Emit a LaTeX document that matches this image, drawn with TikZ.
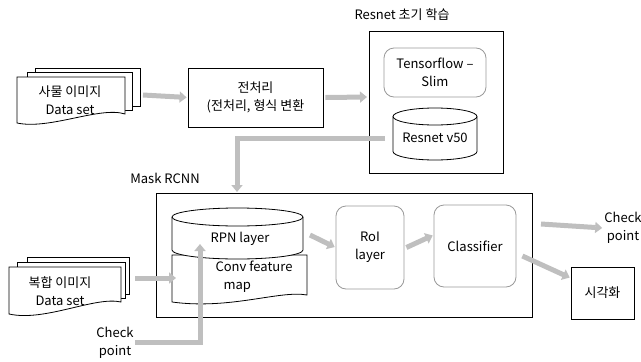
\documentclass[tikz,border=0pt]{standalone}
\usepackage{fontspec}
\setmainfont{Noto Sans CJK KR}
\usetikzlibrary{calc, positioning, arrows.meta}

\tikzset{
  flow/.style = {line width=5pt, draw=gray!50, -{Triangle[length=7pt,width=11pt]}, shorten >=1pt},
  sheet/.style = {draw, fill=white, line width=0.8pt},
  plainbox/.style = {draw, line width=0.8pt, align=center},
  softbox/.style = {draw=gray!80, line width=0.8pt, rounded corners=10pt, align=center},
  txt/.style = {align=center, inner sep=1pt}
}

\begin{document}
\begin{tikzpicture}[x=1pt, y=-1pt, font=\fontsize{13}{18}\selectfont]
  \useasboundingbox (0,0) rectangle (641,362);

  % first data set
  \draw [sheet] (35,68) rectangle (140,106);
  \draw [sheet] (27,72) rectangle (132,110);
  \draw [sheet] (17,77) -- (125,77) -- (125,114)
    .. controls (100,106) and (50,130) .. (17,123) -- cycle;
  \node (objset) [txt] at (70,100) {사물 이미지\\Data set};

  % preprocessing
  \node (prep) [plainbox, minimum width=135, minimum height=59] at (255.5,97.5) {전처리\\(전처리, 형식 변환};

  % resnet pretraining
  \node (resnet) [plainbox, minimum width=134, minimum height=142] at (436,102) {};
  \node (restitle) [txt] at (402,15) {Resnet 초기 학습};
  \node (slim) [softbox, minimum width=102, minimum height=49] at (435,72.5) {Tensorflow –\\Slim};
  \draw [fill=white, line width=0.8pt] (393,116.5) -- (393,151.5)
    .. controls (393,156.2) and (411.8,160) .. (435,160)
    .. controls (458.2,160) and (477,156.2) .. (477,151.5) -- (477,116.5);
  \draw [line width=0.8pt] (435,116.5) ellipse [x radius=42, y radius=8.5];
  \node (v50) [txt] at (435,138) {Resnet v50};
  \coordinate (v50tap) at (385,138);

  % mask rcnn
  \node (mask) [plainbox, minimum width=376, minimum height=124] at (344,255) {};
  \node (masktitle) [txt] at (165,178) {Mask RCNN};
  \coordinate (maskin) at (237,193);

  \draw [sheet] (172,255) -- (307,255) -- (307,295)
    .. controls (280,290) and (230,310) .. (172,302) -- cycle;
  \draw [fill=white, line width=0.8pt] (172,217) -- (172,250)
    .. controls (172,255) and (201.3,259) .. (237.5,259)
    .. controls (273.7,259) and (303,255) .. (303,250) -- (303,217);
  \draw [line width=0.8pt] (237.5,217) ellipse [x radius=65.5, y radius=9];
  \node (rpn) [txt] at (240,239) {RPN layer};
  \node (conv) [txt, align=left] at (254,277) {Conv feature\\\hspace{8pt}map};
  \coordinate (rpnin) at (200,243);

  \node (roi) [softbox, minimum width=68, minimum height=83] at (370,247.5) {RoI\\layer};
  \node (cls) [softbox, minimum width=82, minimum height=82] at (475,246) {Classifier};

  % outputs
  \node (ckout) [txt] at (623,228) {Check\\point};
  \node (vis) [plainbox, minimum width=63, minimum height=52] at (602.5,293) {시각화};

  % second data set
  \draw [sheet] (27,257) rectangle (129,294);
  \draw [sheet] (17,262) rectangle (125,298);
  \draw [sheet] (9,267) -- (121,267) -- (121,302)
    .. controls (95,296) and (45,322) .. (9,314) -- cycle;
  \node (mixset) [txt] at (60,291) {복합 이미지\\Data set};
  \node (ckin) [txt] at (115,343) {Check\\point};

  % flows
  \draw [flow] (143,95) -- (prep.west);
  \draw [flow] (prep.east) ++(2,0) -- (368,97);
  \draw [flow] (v50tap) -| (maskin);
  \draw [flow] (135,278) -- (177,278);
  \draw [flow] (310,235) -- (roi.west);
  \draw [flow] (roi.east) ++(2,0) -- (cls.west |- 0,235);
  \draw [flow] (541,224) -- (ckout.west);
  \draw [flow] (cls.east) ++(6,10) -- (vis.west |- 0,278);
  \draw [flow] (ckin.east |- 0,342) -| (rpnin);
\end{tikzpicture}
\end{document}
